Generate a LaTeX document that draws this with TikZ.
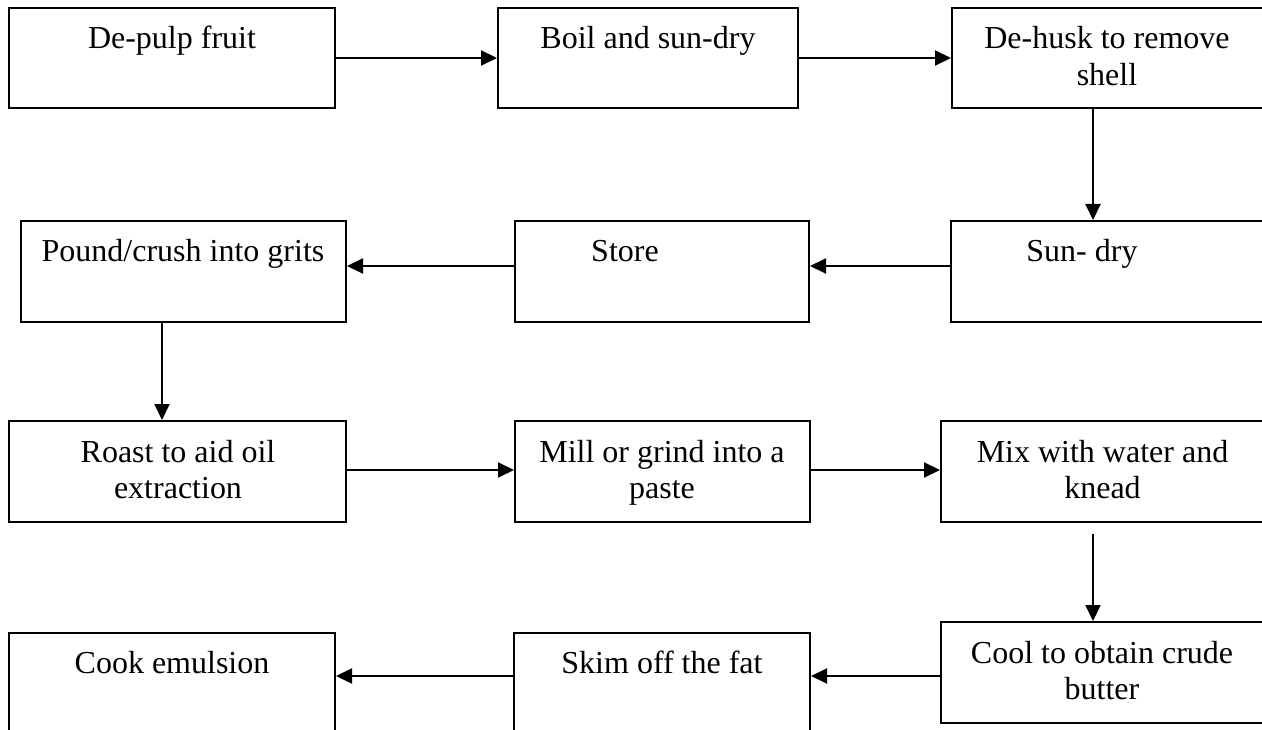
\documentclass[tikz,border=0pt]{standalone}
\usepackage{fontspec}
\setmainfont{Liberation Serif}
\usetikzlibrary{arrows.meta}
\tikzset{
  stepbox/.style={draw=black, line width=2pt, rectangle, inner sep=0pt},
  steptext/.style={anchor=base, inner sep=0pt, align=center, font=\fontsize{32}{36.5}\selectfont},
  flow/.style={draw=black, line width=2pt, -{Triangle[length=16pt,width=15pt]}}
}
\newcommand{\mkbox}[5]{% name, left, top, right, bottom
  \node[stepbox, minimum width={(#4-#2)*1pt}, minimum height={(#5-#3)*1pt}] (#1) at ({(#2+#4)/2},{(#3+#5)/2}) {};}
\begin{document}
\begin{tikzpicture}[x=1pt,y=-1pt]
\useasboundingbox (0,0) rectangle (1262,730);
\clip (0,0) rectangle (1262,730);
% boxes
\mkbox{b1}{9}{8}{335}{108}
\mkbox{b2}{498}{8}{798}{108}
\mkbox{b3}{952}{8}{1300}{108}
\mkbox{b4}{21}{221}{346}{322}
\mkbox{b5}{515}{221}{809}{322}
\mkbox{b6}{951}{221}{1300}{322}
\mkbox{b7}{9}{421}{346}{522}
\mkbox{b8}{515}{421}{810}{522}
\mkbox{b9}{941}{421}{1300}{522}
\mkbox{b10}{9}{633}{335}{790}
\mkbox{b11}{514}{633}{810}{790}
\mkbox{b12}{941}{622}{1300}{723}
% texts (base anchor = baseline of last line)
\node[steptext] (t1) at (172,49) {De-pulp fruit};
\node[steptext] (t2) at (648,49) {Boil and sun-dry};
\node[steptext] (t3) at (1107,85.5) {De-husk to remove\\shell};
\node[steptext] (t4) at (183,262) {Pound/crush into grits};
\node[steptext] (t5) at (625,262) {Store};
\node[steptext] (t6) at (1082,262) {Sun- dry};
\node[steptext] (t7) at (178,498.5) {Roast to aid oil\\extraction};
\node[steptext] (t8) at (662,498.5) {Mill or grind into a\\paste};
\node[steptext] (t9) at (1102.5,498.5) {Mix with water and\\knead};
\node[steptext] (t10) at (172,673) {Cook emulsion};
\node[steptext] (t11) at (662,673) {Skim off the fat};
\node[steptext] (t12) at (1102,699.5) {Cool to obtain crude\\butter};
% guide coordinates
\coordinate (h1) at (0,58);
\coordinate (h2) at (0,266);
\coordinate (h3) at (0,470);
\coordinate (h4) at (0,676);
\coordinate (v1) at (1093,0);
\coordinate (v2) at (162,0);
\coordinate (s9) at (1093,534);
% connectors
\draw[flow] (b1.east |- h1) -- (b2.west |- h1);
\draw[flow] (b2.east |- h1) -- (b3.west |- h1);
\draw[flow] (b3.south -| v1) -- (b6.north -| v1);
\draw[flow] (b6.west |- h2) -- (b5.east |- h2);
\draw[flow] (b5.west |- h2) -- (b4.east |- h2);
\draw[flow] (b4.south -| v2) -- (b7.north -| v2);
\draw[flow] (b7.east |- h3) -- (b8.west |- h3);
\draw[flow] (b8.east |- h3) -- (b9.west |- h3);
\draw[flow] (s9) -- (b12.north -| v1);
\draw[flow] (b12.west |- h4) -- (b11.east |- h4);
\draw[flow] (b11.west |- h4) -- (b10.east |- h4);
\end{tikzpicture}
\end{document}
